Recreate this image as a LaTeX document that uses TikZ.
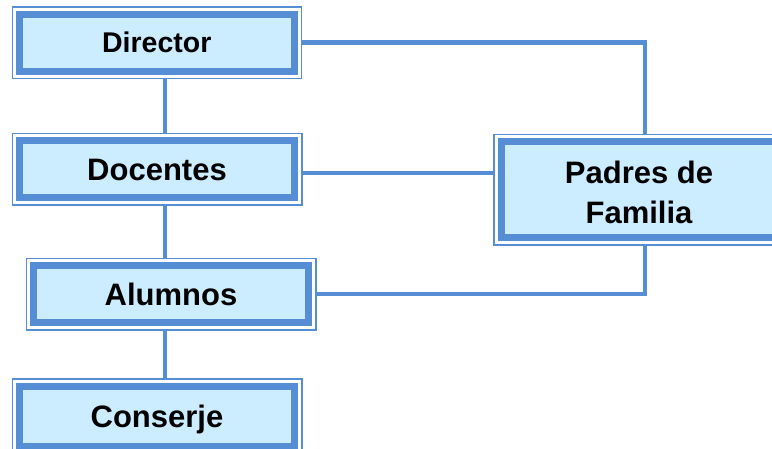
\documentclass[tikz,border=0pt]{standalone}
\usepackage{fontspec}
\setmainfont{Liberation Sans}
\usetikzlibrary{backgrounds}
\definecolor{bblue}{HTML}{558ED5}
\definecolor{lblue}{HTML}{CCECFF}
\tikzset{
  orgbox/.style={draw=bblue, fill=lblue, line width=7pt, outer sep=7.25pt,
    inner sep=0pt, align=center, font=\bfseries\fontsize{31}{40}\selectfont},
  oneline/.style={text height=22pt, text depth=0pt},
  frame/.style={draw=bblue, line width=1.5pt},
  link/.style={draw=bblue, line width=4.5pt}
}
\begin{document}
\begin{tikzpicture}[x=1pt,y=-1pt]
\path[use as bounding box] (0,0) rectangle (772,448);
\clip (0,0) rectangle (772,448);
\coordinate (vx) at (165,0);
\node[orgbox, oneline, minimum width=274.5pt, minimum height=57pt,
      font=\bfseries\fontsize{28.5}{34}\selectfont, text height=20.4pt] (dir) at (156.75,42.5) {Director};
\node[orgbox, oneline, minimum width=275pt, minimum height=57pt] (doc) at (157,169) {Docentes};
\node[orgbox, oneline, minimum width=275pt, minimum height=57pt] (alu) at (171,294) {Alumnos};
\node[orgbox, oneline, minimum width=275pt, minimum height=60pt] (con) at (157,416.3) {Conserje};
\node[orgbox, minimum width=287.4pt, minimum height=96pt] (pad) at (645,189.5)
  {\raisebox{0pt}[27.6pt][0pt]{\hspace*{-12pt}Padres de}\\\hspace*{-12pt}Familia};
\foreach \n in {dir,doc,alu,con,pad}
  \draw[frame] (\n.south west) rectangle (\n.north east);
\begin{scope}[on background layer]
  \draw[link] (dir.east) -| (pad.north);
  \draw[link] (dir.south -| vx) -- (doc.north -| vx);
  \draw[link] (doc.south -| vx) -- (alu.north -| vx);
  \draw[link] (alu.south -| vx) -- (con.north -| vx);
  \draw[link] ([yshift=-4pt]doc.east) -- ([yshift=-4pt]doc.east -| pad.west);
  \draw[link] (pad.south) |- (alu.east);
\end{scope}
\end{tikzpicture}
\end{document}
